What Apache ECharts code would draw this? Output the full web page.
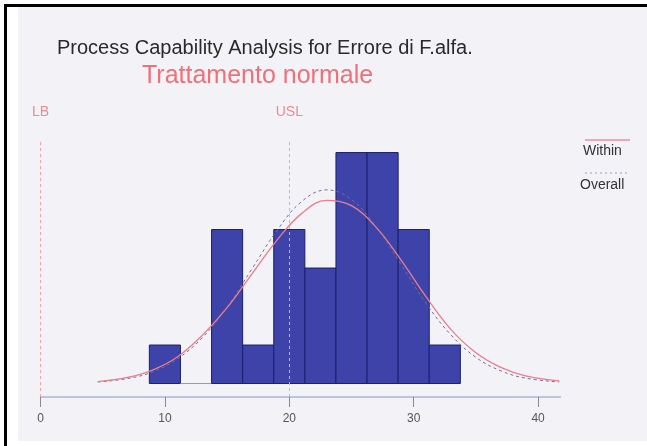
<!DOCTYPE html>
<html>
<head>
<meta charset="utf-8">
<script src="https://cdn.jsdelivr.net/npm/echarts@6/dist/echarts.min.js"></script>
<style>
html,body{margin:0;padding:0;background:#fff;}
#chart{width:647px;height:446px;}
</style>
</head>
<body>
<div id="chart"></div>
<script>
// ---- data ----
var titleText = 'Process Capability Analysis for Errore di F.alfa.';
var subtitleText = 'Trattamento normale';
var binStarts = [8.75, 11.25, 13.75, 16.25, 18.75, 21.25, 23.75, 26.25, 28.75, 31.25];
var binWidth = 2.5;
var counts = [1, 0, 4, 1, 4, 3, 6, 6, 4, 1];
var curveX = [4.6, 7, 9, 11, 13, 15, 17, 19, 21, 23, 25, 27, 29, 31, 33, 35, 37, 39, 41.7];
var withinCurve = [0.05, 0.16, 0.35, 0.69, 1.25, 1.97, 2.85, 3.72, 4.42, 4.76, 4.62, 4.05, 3.2, 2.25, 1.4, 0.8, 0.42, 0.2, 0.07];
var overallCurve = [0.04, 0.13, 0.30, 0.64, 1.19, 1.99, 2.98, 3.97, 4.73, 5.03, 4.78, 4.06, 3.08, 2.08, 1.26, 0.68, 0.33, 0.14, 0.04];
var specNames = ['LB', 'USL'];
var specValues = [0, 20];
var xTicks = [0, 10, 20, 30, 40];
var legendNames = ['Within', 'Overall'];

var FONT = 'Liberation Sans, Arial, sans-serif';
var chart = echarts.init(document.getElementById('chart'), null, {renderer: 'canvas'});

var histData = binStarts.map(function (s, i) { return [s, s + binWidth, counts[i]]; });
function pairs(xs, ys) { return xs.map(function (x, i) { return [x, ys[i]]; }); }

var option = {
  backgroundColor: '#ffffff',
  animation: false,
  title: [
    {text: titleText, left: 52, top: 33,
     textStyle: {fontFamily: FONT, fontSize: 20, fontWeight: 'normal', color: '#2a2a2a'}},
    {text: subtitleText, left: 137, top: 59,
     textStyle: {fontFamily: FONT, fontSize: 25, fontWeight: 'normal', color: '#ee7079'}}
  ],
  grid: {left: 40.5, right: 86.5, top: 141, bottom: 49},
  xAxis: {
    type: 'value', min: 0, max: 41.8,
    splitLine: {show: false},
    axisLine: {show: true, onZero: false, lineStyle: {color: '#a9b5d9', width: 1.5}},
    axisTick: {show: true, customValues: xTicks, length: 10, lineStyle: {color: '#8a8a8a'}},
    axisLabel: {customValues: xTicks, margin: 16, fontFamily: FONT, fontSize: 12, color: '#555'}
  },
  yAxis: {
    type: 'value', min: -0.35, max: 6.3, show: false, splitLine: {show: false}
  },
  graphic: [
    {type: 'rect', z: -10, shape: {x: 0, y: 0, width: 647, height: 446}, style: {fill: '#ffffff'}},
    {type: 'rect', z: -9, shape: {x: 18, y: 7, width: 629, height: 434}, style: {fill: '#f3f3f7'}},
    {type: 'rect', z: -8, shape: {x: 4, y: 4, width: 643, height: 3}, style: {fill: '#000'}},
    {type: 'rect', z: -8, shape: {x: 4, y: 4, width: 3, height: 442}, style: {fill: '#000'}},
    {type: 'line', z: 5, shape: {x1: 585, y1: 140, x2: 630, y2: 140}, style: {stroke: '#ee8f99', lineWidth: 1.5}},
    {type: 'text', z: 5, left: 583, top: 144, style: {text: legendNames[0], font: '14px ' + FONT, fill: '#333'}},
    {type: 'line', z: 5, shape: {x1: 585, y1: 173, x2: 630, y2: 173}, style: {stroke: '#9a9db5', lineWidth: 1, lineDash: [2, 3]}},
    {type: 'text', z: 5, left: 580, top: 178, style: {text: legendNames[1], font: '14px ' + FONT, fill: '#333'}}
  ],
  series: [
    {
      type: 'custom', name: 'hist', z: 2,
      encode: {x: [0, 1], y: 2},
      data: histData,
      renderItem: function (params, api) {
        var p0 = api.coord([api.value(0), 0]);
        var p1 = api.coord([api.value(1), api.value(2)]);
        if (api.value(2) === 0) {
          return {type: 'line', shape: {x1: p0[0], y1: p0[1], x2: p1[0], y2: p0[1]},
                  style: {stroke: '#9a9aaa', lineWidth: 1}};
        }
        return {type: 'rect', shape: {x: p0[0], y: p1[1], width: p1[0] - p0[0], height: p0[1] - p1[1]},
                style: {fill: '#3d43a9', stroke: '#1b1f6c', lineWidth: 1}};
      }
    },
    {
      type: 'line', name: legendNames[1], z: 3, smooth: 0.4, showSymbol: false,
      data: pairs(curveX, overallCurve),
      lineStyle: {color: '#6e7292', width: 1, type: [3, 3]}
    },
    {
      type: 'line', name: legendNames[0], z: 4, smooth: 0.4, showSymbol: false,
      data: pairs(curveX, withinCurve),
      lineStyle: {color: '#ec7d8a', width: 1.3}
    },
    {
      type: 'line', name: 'spec', z: 1, data: [], silent: true,
      markLine: {
        symbol: 'none', silent: true,
        lineStyle: {color: '#f1a3ab', type: [3, 3], width: 1},
        label: {show: true, position: 'end', distance: 22, fontFamily: FONT, fontSize: 14, color: '#ee8a92',
                formatter: function (p) { return p.name; }},
        data: specValues.map(function (v, i) {
          return [{name: specNames[i], coord: [v, -0.35]}, {coord: [v, 6.3]}];
        })
      }
    }
  ]
};
chart.setOption(option);
</script>
</body>
</html>
